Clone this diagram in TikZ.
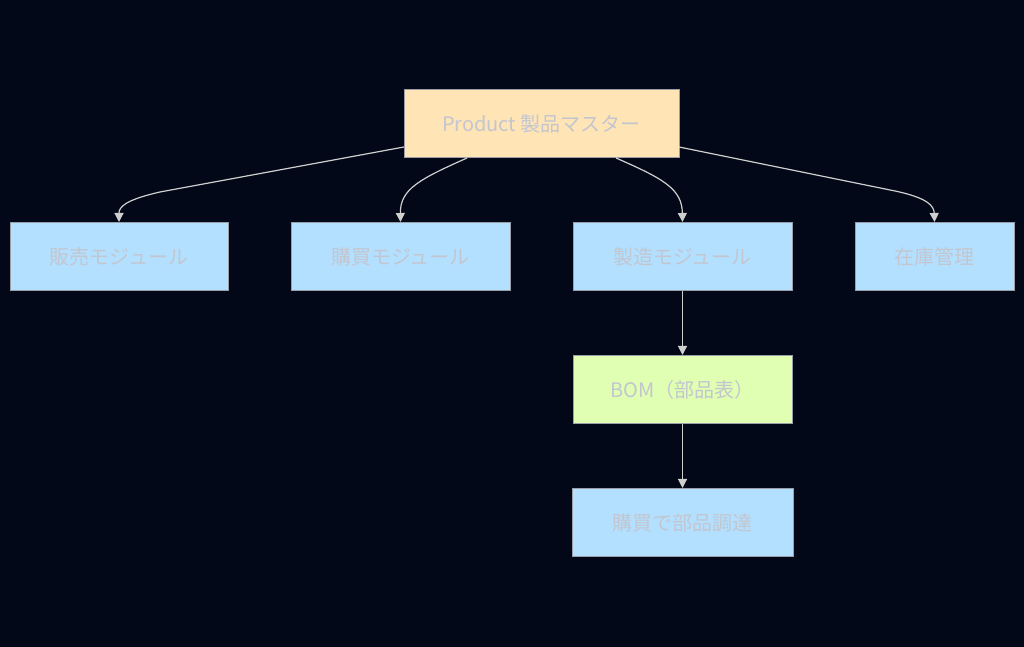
\documentclass[tikz,border=0pt]{standalone}
\usepackage{fontspec}
\setmainfont{Noto Sans CJK JP}
\usetikzlibrary{arrows.meta}
\definecolor{bg}{HTML}{020817}
\definecolor{txt}{HTML}{C3C6D0}
\definecolor{edge}{HTML}{CFCFCF}
\definecolor{bord}{HTML}{9A9EA6}
\definecolor{prodfill}{HTML}{FFE4B5}
\definecolor{modfill}{HTML}{B3E0FF}
\definecolor{bomfill}{HTML}{E0FFB3}
\tikzset{
  box/.style={draw=bord, line width=1pt, minimum height=68pt, text=txt, font=\fontsize{20}{22}\selectfont, inner sep=0pt},
  link/.style={draw=edge, line width=1.2pt, -{Triangle[length=9pt,width=9pt]}},
}
\begin{document}
\begin{tikzpicture}[x=1pt,y=1pt]
\fill[bg] (0,0) rectangle (1024,647);
\useasboundingbox (0,0) rectangle (1024,647);
\node[box, fill=prodfill, minimum width=275pt] (p) at (541.5,523) {Product 製品マスター};
\node[box, fill=modfill, minimum width=218pt] (s) at (119,390.5) {販売モジュール};
\node[box, fill=modfill, minimum width=219pt] (k) at (400.5,390.5) {購買モジュール};
\node[box, fill=modfill, minimum width=219pt] (m) at (682.5,390.5) {製造モジュール};
\node[box, fill=modfill, minimum width=159pt] (z) at (934.5,390.5) {在庫管理};
\node[box, fill=bomfill, minimum width=219pt] (b) at (682.5,257.5) {BOM（部品表）};
\node[box, fill=modfill, minimum width=221pt] (c) at (682.5,124.5) {購買で部品調達};
\coordinate (p1) at (404,500);
\coordinate (p2) at (467,489);
\coordinate (p3) at (616,489);
\coordinate (p4) at (679,500);
\draw[link] (p1) -- (160,455) .. controls (125,447) and (119,440) .. (s.north);
\draw[link] (p2) .. controls (420,468) and (400,458) .. (k.north);
\draw[link] (p3) .. controls (664,468) and (682,458) .. (m.north);
\draw[link] (p4) -- (895,456) .. controls (928,449) and (934,441) .. (z.north);
\draw[link] (m.south) -- (b.north);
\draw[link] (b.south) -- (c.north);
\end{tikzpicture}
\end{document}
